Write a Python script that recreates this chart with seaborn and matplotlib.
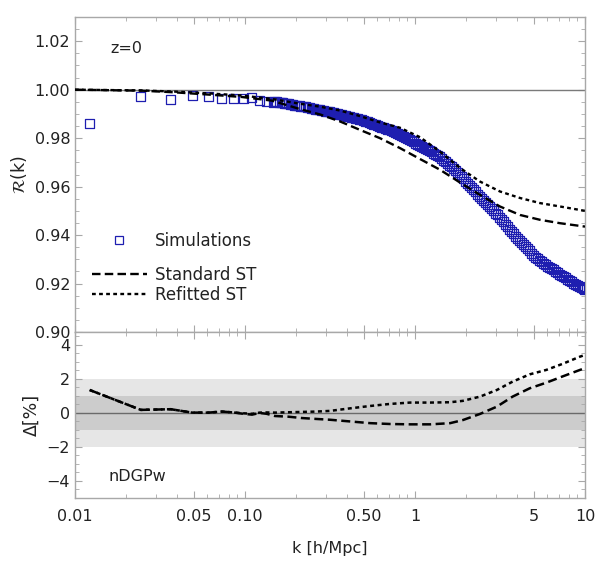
import numpy as np
import pandas as pd
import matplotlib
matplotlib.use("Agg")
import matplotlib.pyplot as plt
from matplotlib.ticker import FixedLocator, MultipleLocator, NullFormatter
from matplotlib.lines import Line2D
import seaborn as sns

# ---------------- data ----------------
# Simulations: low-k individual bins
sim_k_low = [0.0122, 0.0244, 0.0366, 0.0488, 0.0610, 0.0732, 0.0854, 0.0976,
             0.1098, 0.1220, 0.1342, 0.1464]
sim_R_low = [0.9860, 0.9970, 0.9959, 0.9978, 0.9972, 0.9962, 0.9962, 0.9964,
             0.9966, 0.9956, 0.9950, 0.9947]
# Simulations: dense high-k part
sim_k_high = [
    0.1501, 0.1542, 0.1585, 0.1629, 0.1673, 0.1719, 0.1766, 0.1814, 0.1864, 0.1915,
    0.1968, 0.2022, 0.2078, 0.2135, 0.2194, 0.2254, 0.2316, 0.2380, 0.2445, 0.2512,
    0.2581, 0.2652, 0.2725, 0.2800, 0.2877, 0.2956, 0.3037, 0.3120, 0.3206, 0.3294,
    0.3385, 0.3478, 0.3573, 0.3671, 0.3772, 0.3876, 0.3982, 0.4091, 0.4204, 0.4319,
    0.4438, 0.4560, 0.4685, 0.4814, 0.4946, 0.5082, 0.5222, 0.5365, 0.5512, 0.5664,
    0.5819, 0.5979, 0.6143, 0.6312, 0.6486, 0.6664, 0.6847, 0.7035, 0.7228, 0.7427,
    0.7631, 0.7841, 0.8056, 0.8277, 0.8505, 0.8738, 0.8978, 0.9225, 0.9478, 0.9739,
    1.0006, 1.0281, 1.0563, 1.0853, 1.1152, 1.1458, 1.1773, 1.2096, 1.2429, 1.2770,
    1.3121, 1.3481, 1.3852, 1.4232, 1.4624, 1.5025, 1.5438, 1.5862, 1.6298, 1.6746,
    1.7206, 1.7678, 1.8164, 1.8663, 1.9176, 1.9702, 2.0244, 2.0800, 2.1372, 2.1959,
    2.2562, 2.3181, 2.3819, 2.4473, 2.5146, 2.5836, 2.6546, 2.7275, 2.8025, 2.8794,
    2.9586, 3.0398, 3.1234, 3.2092, 3.2974, 3.3879, 3.4811, 3.5767, 3.6749, 3.7759,
    3.8796, 3.9862, 4.0957, 4.2082, 4.3239, 4.4426, 4.5647, 4.6901, 4.8190, 4.9514,
    5.0874, 5.2272, 5.3707, 5.5183, 5.6699, 5.8256, 5.9857, 6.1501, 6.3191, 6.4927,
    6.6711, 6.8543, 7.0427, 7.2361, 7.4350, 7.6392, 7.8491, 8.0647, 8.2863, 8.5139,
    8.7479, 8.9882, 9.2352, 9.4889, 9.7496, 10.0]
sim_R_high = [
    0.9952, 0.9951, 0.9949, 0.9948, 0.9946, 0.9945, 0.9943, 0.9941, 0.9939, 0.9938,
    0.9936, 0.9935, 0.9933, 0.9932, 0.9930, 0.9929, 0.9927, 0.9926, 0.9924, 0.9922,
    0.9920, 0.9919, 0.9918, 0.9916, 0.9914, 0.9912, 0.9910, 0.9908, 0.9906, 0.9904,
    0.9902, 0.9900, 0.9898, 0.9896, 0.9894, 0.9893, 0.9891, 0.9889, 0.9887, 0.9885,
    0.9883, 0.9881, 0.9878, 0.9875, 0.9872, 0.9870, 0.9867, 0.9864, 0.9861, 0.9858,
    0.9855, 0.9853, 0.9850, 0.9846, 0.9843, 0.9840, 0.9837, 0.9834, 0.9830, 0.9826,
    0.9822, 0.9818, 0.9814, 0.9810, 0.9806, 0.9801, 0.9797, 0.9793, 0.9789, 0.9785,
    0.9780, 0.9775, 0.9770, 0.9766, 0.9761, 0.9757, 0.9752, 0.9748, 0.9743, 0.9738,
    0.9733, 0.9728, 0.9723, 0.9716, 0.9709, 0.9702, 0.9695, 0.9688, 0.9681, 0.9673,
    0.9665, 0.9657, 0.9649, 0.9641, 0.9632, 0.9623, 0.9614, 0.9605, 0.9596, 0.9587,
    0.9578, 0.9568, 0.9559, 0.9551, 0.9542, 0.9534, 0.9525, 0.9517, 0.9508, 0.9500,
    0.9491, 0.9483, 0.9474, 0.9464, 0.9454, 0.9444, 0.9434, 0.9425, 0.9415, 0.9406,
    0.9396, 0.9387, 0.9377, 0.9369, 0.9360, 0.9352, 0.9343, 0.9335, 0.9326, 0.9317,
    0.9309, 0.9302, 0.9295, 0.9290, 0.9284, 0.9278, 0.9272, 0.9267, 0.9261, 0.9256,
    0.9250, 0.9245, 0.9239, 0.9234, 0.9228, 0.9223, 0.9218, 0.9212, 0.9207, 0.9202,
    0.9197, 0.9193, 0.9188, 0.9184, 0.9180, 0.9176]

# Models
model_k = [0.010, 0.0247, 0.0388, 0.0606, 0.0955, 0.1436, 0.2106, 0.276, 0.362, 0.475,
           0.622, 0.816, 1.07, 1.40, 1.84, 2.41, 3.16, 4.15, 5.44, 7.13, 10.0]
standard_R = [1.0000, 0.9996, 0.9989, 0.9980, 0.9970, 0.9955, 0.9920, 0.9898, 0.9869, 0.9834,
              0.9800, 0.9759, 0.9714, 0.9670, 0.9617, 0.9566, 0.9518, 0.9483, 0.9463, 0.9449, 0.9435]
refitted_R = [1.0000, 0.9997, 0.9992, 0.9985, 0.9976, 0.9962, 0.9942, 0.9930, 0.9914, 0.9891,
              0.9865, 0.9843, 0.9804, 0.9745, 0.9677, 0.9621, 0.9580, 0.9553, 0.9532, 0.9518, 0.9500]

# Residuals Delta [%]
delta_k = [0.0122, 0.0244, 0.0366, 0.0488, 0.0610, 0.0732, 0.0854, 0.0976, 0.110, 0.122,
           0.134, 0.150, 0.180, 0.216, 0.260, 0.316, 0.415, 0.545, 0.713, 0.935, 1.23,
           1.61, 1.91, 2.41, 3.03, 3.75, 4.73, 5.92, 7.35, 9.34, 10.0]
delta_standard = [1.35, 0.18, 0.22, 0.02, 0.02, 0.08, 0.03, -0.05, -0.10, 0.00,
                  -0.05, -0.18, -0.22, -0.30, -0.35, -0.40, -0.50, -0.60, -0.65, -0.67, -0.67,
                  -0.60, -0.42, -0.06, 0.37, 0.96, 1.45, 1.78, 2.14, 2.53, 2.63]
delta_refitted = [1.35, 0.18, 0.22, 0.02, 0.02, 0.08, 0.03, -0.02, -0.05, 0.02,
                  0.03, 0.02, 0.04, 0.06, 0.08, 0.12, 0.27, 0.41, 0.53, 0.61, 0.61,
                  0.63, 0.71, 0.96, 1.35, 1.84, 2.27, 2.53, 2.88, 3.31, 3.41]

xtick_vals = [0.01, 0.05, 0.10, 0.50, 1, 5, 10]
xtick_labels = ["0.01", "0.05", "0.10", "0.50", "1", "5", "10"]

# ---------------- style ----------------
sns.set_style("ticks")
plt.rcParams['font.family'] = ['DejaVu Sans']
plt.rcParams['mathtext.fontset'] = 'dejavusans'
FS = 11.5
GRAY = "#a8a8a8"
TXT = "#222222"
BLUE = "#1e1eb0"

fig = plt.figure(figsize=(6.0, 5.63), dpi=100)
ax1 = fig.add_axes([0.125, 0.4103, 0.85, 0.5595])
ax2 = fig.add_axes([0.125, 0.1155, 0.85, 0.2948])

sim_df = pd.DataFrame({"k": sim_k_low + sim_k_high, "R": sim_R_low + sim_R_high})
model_df = pd.DataFrame({"k": model_k, "Standard ST": standard_R, "Refitted ST": refitted_R})
delta_df = pd.DataFrame({"k": delta_k, "std": delta_standard, "ref": delta_refitted})

dash_style = (0, (3.6, 1.8))
dot_style = (0, (1.6, 1.4))

# ---- top panel ----
ax1.axhline(1.0, color="#7a7a7a", lw=1.0, zorder=1)
sns.scatterplot(data=sim_df, x="k", y="R", ax=ax1, marker="s", s=42,
                facecolor="none", edgecolor=BLUE, linewidth=0.9, zorder=3, legend=False)
sns.lineplot(data=model_df, x="k", y="Standard ST", ax=ax1, color="black", lw=1.7,
             linestyle=dash_style, zorder=4, legend=False)
sns.lineplot(data=model_df, x="k", y="Refitted ST", ax=ax1, color="black", lw=1.7,
             linestyle=dot_style, zorder=4, legend=False)

# ---- bottom panel ----
ax2.axhspan(-2, 2, color="#e6e6e6", lw=0, zorder=0)
ax2.axhspan(-1, 1, color="#cccccc", lw=0, zorder=0)
ax2.axhline(0.0, color="#6a6a6a", lw=1.0, zorder=1)
sns.lineplot(data=delta_df, x="k", y="std", ax=ax2, color="black", lw=1.8,
             linestyle=dash_style, zorder=3, legend=False)
sns.lineplot(data=delta_df, x="k", y="ref", ax=ax2, color="black", lw=1.8,
             linestyle=dot_style, zorder=3, legend=False)

for ax in (ax1, ax2):
    ax.set_xscale("log")
    ax.set_xlim(0.01, 10)
    ax.xaxis.set_major_locator(FixedLocator(xtick_vals))
    minors = [m * d for d in (0.01, 0.1, 1) for m in range(2, 10)]
    ax.xaxis.set_minor_locator(FixedLocator([m for m in minors if m not in xtick_vals]))
    ax.xaxis.set_minor_formatter(NullFormatter())
    for sp in ax.spines.values():
        sp.set_color(GRAY)
        sp.set_linewidth(1.0)
    ax.tick_params(which="both", direction="in", top=True, right=True, color=GRAY,
                   labelsize=FS, labelcolor=TXT)
    ax.tick_params(which="major", length=5, width=0.8)
    ax.tick_params(which="minor", length=3, width=0.6)
    ax.set_xlabel("")
    ax.set_ylabel("")

ax1.set_ylim(0.90, 1.03)
ax1.yaxis.set_major_locator(FixedLocator([0.90, 0.92, 0.94, 0.96, 0.98, 1.00, 1.02]))
ax1.yaxis.set_minor_locator(MultipleLocator(0.005))
ax1.set_yticklabels(["0.90", "0.92", "0.94", "0.96", "0.98", "1.00", "1.02"])
ax1.set_xticks(xtick_vals)
ax1.set_xticklabels([])

ax2.set_ylim(-5, 4.76)
ax2.yaxis.set_major_locator(FixedLocator([-4, -2, 0, 2, 4]))
ax2.yaxis.set_minor_locator(MultipleLocator(0.5))
ax2.set_yticklabels(["\u22124", "\u22122", "0", "2", "4"])
ax2.set_xticks(xtick_vals)
ax2.set_xticklabels(xtick_labels)
ax2.tick_params(axis="x", pad=8)

ax1.set_ylabel(r"$\mathcal{R}$(k)", fontsize=FS + 1, color=TXT, labelpad=4)
ax2.set_ylabel("\u0394[%]", fontsize=FS + 1, color=TXT, labelpad=4)
ax2.set_xlabel("k [h/Mpc]", fontsize=FS, color=TXT, labelpad=12)

ax1.text(0.07, 0.90, "z=0", transform=ax1.transAxes, fontsize=FS, color=TXT, va="center")
ax2.text(0.065, 0.127, "nDGPw", transform=ax2.transAxes, fontsize=FS, color=TXT, va="center")

# legends
h_sim = Line2D([], [], marker="s", ls="none", mfc="none", mec=BLUE, ms=6, mew=0.9)
h_std = Line2D([], [], color="black", lw=1.7, linestyle=dash_style)
h_ref = Line2D([], [], color="black", lw=1.7, linestyle=dot_style)
leg1 = ax1.legend(handles=[h_sim], labels=["Simulations"], loc="center left",
                  bbox_to_anchor=(0.0, 0.289), frameon=False, fontsize=FS + 0.5,
                  handlelength=3.3, handletextpad=0.5, borderaxespad=0.6)
for t in leg1.get_texts():
    t.set_color(TXT)
ax1.add_artist(leg1)
leg2 = ax1.legend(handles=[h_std, h_ref], labels=["Standard ST", "Refitted ST"],
                  loc="center left", bbox_to_anchor=(0.0, 0.150), frameon=False,
                  fontsize=FS + 0.5, handlelength=3.3, handletextpad=0.5,
                  labelspacing=0.15, borderaxespad=0.6)
for t in leg2.get_texts():
    t.set_color(TXT)

fig.savefig("out.png", dpi=100)
